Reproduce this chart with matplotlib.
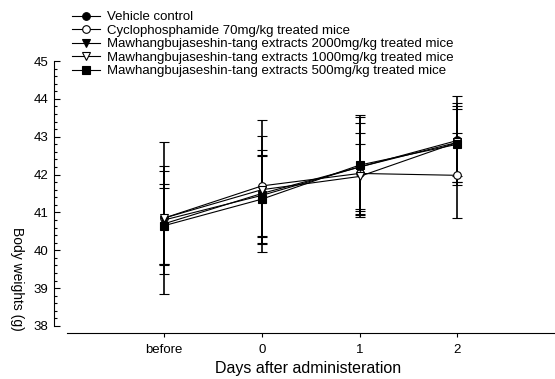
import numpy as np
import matplotlib
matplotlib.use("Agg")
from matplotlib import pyplot as plt
from matplotlib.ticker import MultipleLocator

plt.rcParams['font.family'] = ['Liberation Sans', 'DejaVu Sans']

days = ['before', '0', '1', '2']

vehicle = [40.70, 41.50, 42.20, 42.90]
vehicle_sd = [1.05, 1.15, 1.33, 1.17]
cyclo = [40.85, 41.70, 42.03, 41.98]
cyclo_sd = [2.00, 1.75, 1.07, 1.12]
mbt2000 = [40.80, 41.45, 42.20, 42.85]
mbt2000_sd = [1.42, 1.06, 1.17, 1.05]
mbt1000 = [40.85, 41.60, 41.95, 42.85]
mbt1000_sd = [1.25, 1.43, 0.85, 0.89]
mbt500 = [40.65, 41.35, 42.25, 42.80]
mbt500_sd = [1.00, 1.15, 1.33, 1.00]

labels = ['Vehicle control',
          'Cyclophosphamide 70mg/kg treated mice',
          'Mawhangbujaseshin-tang extracts 2000mg/kg treated mice',
          'Mawhangbujaseshin-tang extracts 1000mg/kg treated mice',
          'Mawhangbujaseshin-tang extracts 500mg/kg treated mice']

series = [(vehicle, vehicle_sd, 'o', 'black'),
          (cyclo, cyclo_sd, 'o', 'white'),
          (mbt2000, mbt2000_sd, 'v', 'black'),
          (mbt1000, mbt1000_sd, 'v', 'white'),
          (mbt500, mbt500_sd, 's', 'black')]

fig = plt.figure(figsize=(5.55, 3.79), dpi=100)
ax = fig.add_axes([54 / 555, 46 / 379, 501 / 555, 272 / 379])

x = np.arange(len(days))
handles = []
for (vals, sd, mk, fc), lab in zip(series, labels):
    h = ax.errorbar(x, vals, yerr=sd, color='black', linewidth=0.8,
                    elinewidth=1.2, capsize=3.6, capthick=1.0,
                    marker=mk, markersize=5.5, markerfacecolor=fc,
                    markeredgecolor='black', markeredgewidth=0.8, label=lab)
    handles.append(h)

ax.set_xlim(-1.126, 4.0)
ax.set_ylim(37.815, 45)
ax.spines['top'].set_visible(False)
ax.spines['right'].set_visible(False)
ax.spines['left'].set_bounds(38, 45)
ax.spines['bottom'].set_bounds(-0.99, 4.0)
ax.spines['left'].set_linewidth(0.8)
ax.spines['bottom'].set_linewidth(0.8)

ax.set_xticks(x)
ax.set_xticklabels(days)
ax.yaxis.set_major_locator(MultipleLocator(1))
ax.yaxis.set_minor_locator(MultipleLocator(0.2))
ax.tick_params(axis='y', which='major', direction='in', length=4.3, width=0.8,
               labelsize=9.5, pad=4)
ax.tick_params(axis='y', which='minor', direction='in', length=2.2, width=0.8)
ax.tick_params(axis='x', direction='out', length=3, width=0.8, labelsize=9.5, pad=5)

fig.text(308 / 555, 1 - 368 / 379, 'Days after administeration',
         ha='center', va='center', fontsize=11.5)
fig.text(17 / 555, 1 - 279 / 379, 'Body weights (g)', rotation=-90,
         ha='center', va='center', fontsize=10)

leg = fig.legend(handles=[h[0] for h in handles], labels=labels,
                 loc='upper left', bbox_to_anchor=(72 / 555, 1 - 11 / 379),
                 frameon=False, fontsize=9.5, handlelength=2.1,
                 handletextpad=0.55, labelspacing=0.1, borderaxespad=0,
                 borderpad=0)

fig.savefig('out.png', dpi=100)
